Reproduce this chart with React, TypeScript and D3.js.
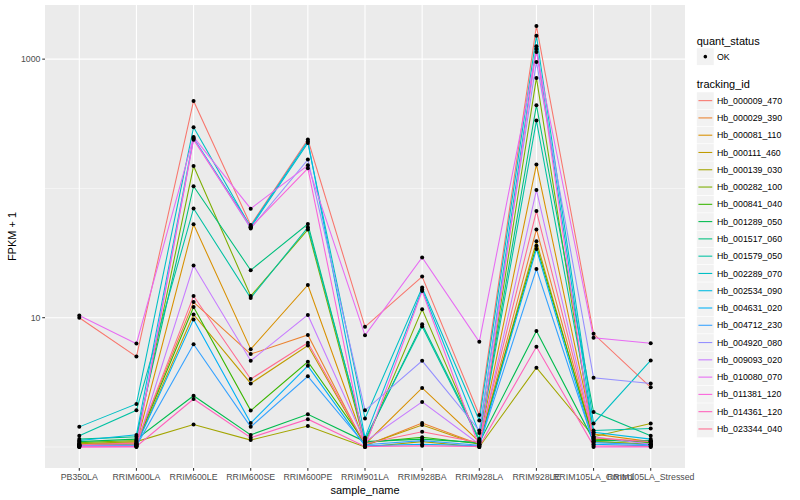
import React from 'react';
import * as d3 from 'd3';

const samples = [
  'PB350LA', 'RRIM600LA', 'RRIM600LE', 'RRIM600SE', 'RRIM600PE', 'RRIM901LA',
  'RRIM928BA', 'RRIM928LA', 'RRIM928LE', 'RRIM105LA_Control', 'RRIM105LA_Stressed',
];

const trackingIds = [
  'Hb_000009_470', 'Hb_000029_390', 'Hb_000081_110', 'Hb_000111_460', 'Hb_000139_030',
  'Hb_000282_100', 'Hb_000841_040', 'Hb_001289_050', 'Hb_001517_060', 'Hb_001579_050',
  'Hb_002289_070', 'Hb_002534_090', 'Hb_004631_020', 'Hb_004712_230', 'Hb_004920_080',
  'Hb_009093_020', 'Hb_010080_070', 'Hb_011381_120', 'Hb_014361_120', 'Hb_023344_040',
];

const palette = [
  '#F8766D', '#EA8331', '#D89000', '#C09B00', '#A3A500', '#7CAE00', '#39B600', '#00BB4E',
  '#00BF7D', '#00C1A3', '#00BFC4', '#00BAE0', '#00B0F6', '#35A2FF', '#9590FF', '#C77CFF',
  '#E76BF3', '#FA62DB', '#FF62BC', '#FF6C91',
];

// FPKM + 1 per sample (order of `samples`)
const hb_000009_470 = [10.0, 5.0, 475, 52, 239, 8.5, 20.8, 1.77, 1803, 7.5, 2.89];
const hb_000029_390 = [1.05, 1.08, 13.2, 5.23, 7.36, 1.02, 1.53, 1.05, 48.2, 1.15, 1.1];
const hb_000081_110 = [1.03, 1.05, 52.7, 5.71, 17.9, 1.05, 2.86, 1.1, 153, 1.26, 1.1];
const hb_000111_460 = [1.02, 1.04, 10.6, 3.1, 6.1, 1.03, 1.48, 1.04, 39, 1.1, 1.05];
const hb_000139_030 = [1.06, 1.1, 1.49, 1.13, 1.45, 1.0, 1.1, 1.0, 4.1, 1.2, 1.52];
const hb_000282_100 = [1.08, 1.12, 149, 14.7, 48, 1.05, 11.6, 1.1, 716, 1.1, 1.05];
const hb_000841_040 = [1.04, 1.06, 12.1, 1.91, 4.56, 1.08, 1.19, 1.06, 36, 1.15, 1.08];
const hb_001289_050 = [1.1, 1.15, 2.49, 1.24, 1.79, 1.1, 1.15, 1.08, 7.9, 1.12, 1.12];
const hb_001517_060 = [1.15, 1.2, 104, 23.3, 53, 1.12, 8.9, 1.15, 440, 1.86, 1.22];
const hb_001579_050 = [1.22, 1.92, 70, 14.2, 50, 1.15, 8.55, 1.12, 335, 1.34, 1.39];
const hb_002289_070 = [1.43, 2.15, 297, 50, 225, 1.66, 17.1, 1.6, 1517, 1.52, 4.67];
const hb_002534_090 = [1.12, 1.24, 245, 51, 232, 1.18, 16.5, 1.28, 1256, 1.3, 1.15];
const hb_004631_020 = [1.01, 1.03, 9.7, 1.53, 4.24, 1.02, 1.05, 1.02, 34, 1.05, 1.02];
const hb_004712_230 = [1.02, 1.02, 6.24, 1.43, 3.52, 1.04, 1.12, 1.03, 23.8, 1.08, 1.04];
const hb_004920_080 = [1.03, 1.04, 242, 49, 167, 1.92, 4.64, 1.34, 951, 3.43, 3.1];
const hb_009093_020 = [1.01, 1.01, 25.3, 4.64, 10.5, 1.1, 2.23, 1.05, 97, 1.2, 1.05];
const hb_010080_070 = [10.4, 6.3, 250, 69.7, 151, 7.3, 29.2, 6.5, 1136, 7.0, 6.35];
const hb_011381_120 = [1.0, 1.0, 238, 50, 143, 1.0, 16.1, 1.0, 1200, 1.0, 1.0];
const hb_014361_120 = [1.0, 1.01, 2.35, 1.18, 1.64, 1.01, 1.02, 1.01, 5.95, 1.02, 1.01];
const hb_023344_040 = [1.04, 1.07, 14.7, 3.35, 6.4, 1.06, 1.31, 1.08, 66.8, 1.18, 1.1];

const seriesValues = [
  hb_000009_470, hb_000029_390, hb_000081_110, hb_000111_460, hb_000139_030,
  hb_000282_100, hb_000841_040, hb_001289_050, hb_001517_060, hb_001579_050,
  hb_002289_070, hb_002534_090, hb_004631_020, hb_004712_230, hb_004920_080,
  hb_009093_020, hb_010080_070, hb_011381_120, hb_014361_120, hb_023344_040,
];

const majorTicks = [10, 1000];
const minorTicks = [1, 100];

const FONT = '"Liberation Sans", Arial, Helvetica, sans-serif';

export default function App() {
  const W = 800, H = 500;
  const left = 45, right = 685, top = 5, bottom = 468;

  const x = d3.scalePoint<string>().domain(samples).range([left, right]).padding(0.6);

  const all = seriesValues.flat();
  const lmin = Math.log10(d3.min(all) as number);
  const lmax = Math.log10(d3.max(all) as number);
  const pad = 0.05 * (lmax - lmin);
  const y = d3.scaleLog().domain([Math.pow(10, lmin - pad), Math.pow(10, lmax + pad)]).range([bottom, top]);

  const line = d3.line<number>()
    .x((_, i) => x(samples[i]) as number)
    .y((v) => y(v));

  const legX = 696.7;
  const keyW = 17.28;
  const firstKeyY = 92;

  return (
    <svg width={W} height={H} style={{ position: 'absolute', left: 0, top: 0, fontFamily: FONT }}>
      <rect x={0} y={0} width={W} height={H} fill="#FFFFFF" />
      <rect x={left} y={top} width={right - left} height={bottom - top} fill="#EBEBEB" />
      {minorTicks.map((t) => (
        <line key={'mn' + t} x1={left} x2={right} y1={y(t)} y2={y(t)} stroke="#FFFFFF" strokeWidth={0.53} />
      ))}
      {majorTicks.map((t) => (
        <line key={'mj' + t} x1={left} x2={right} y1={y(t)} y2={y(t)} stroke="#FFFFFF" strokeWidth={1.07} />
      ))}
      {samples.map((s) => (
        <line key={'xg' + s} x1={x(s)} x2={x(s)} y1={top} y2={bottom} stroke="#FFFFFF" strokeWidth={1.07} />
      ))}

      {seriesValues.map((vals, i) => (
        <path key={'l' + i} d={line(vals) || ''} fill="none" stroke={palette[i]} strokeWidth={1.07} />
      ))}
      {seriesValues.map((vals, i) =>
        vals.map((v, j) => (
          <circle key={'p' + i + '_' + j} cx={x(samples[j])} cy={y(v)} r={2} fill="#000000" />
        ))
      )}

      {/* y axis */}
      {majorTicks.map((t) => (
        <g key={'yt' + t}>
          <line x1={left - 2.75} x2={left} y1={y(t)} y2={y(t)} stroke="#333333" strokeWidth={1.07} />
          <text x={left - 4.5} y={y(t)} dy="0.35em" textAnchor="end" fontSize={8.8} fill="#4D4D4D">
            {d3.format('d')(t)}
          </text>
        </g>
      ))}
      {/* x axis */}
      {samples.map((s) => (
        <g key={'xt' + s}>
          <line x1={x(s)} x2={x(s)} y1={bottom} y2={bottom + 2.75} stroke="#333333" strokeWidth={1.07} />
          <text x={x(s)} y={bottom + 11.5} textAnchor="middle" fontSize={8.8} fill="#4D4D4D">
            {s}
          </text>
        </g>
      ))}

      <text x={(left + right) / 2} y={494} textAnchor="middle" fontSize={11} fill="#000000">sample_name</text>
      <text transform={`translate(16,${(top + bottom) / 2}) rotate(-90)`} textAnchor="middle" fontSize={11} fill="#000000">
        FPKM + 1
      </text>

      {/* legend: quant_status */}
      <text x={legX} y={44.5} fontSize={11} fill="#000000">quant_status</text>
      <rect x={legX} y={48} width={keyW} height={keyW} fill="#F2F2F2" stroke="#FFFFFF" strokeWidth={0.5} />
      <circle cx={legX + keyW / 2} cy={48 + keyW / 2} r={1.8} fill="#000000" />
      <text x={legX + keyW + 3} y={48 + keyW / 2} dy="0.35em" fontSize={8.8} fill="#000000">OK</text>

      {/* legend: tracking_id */}
      <text x={legX} y={88} fontSize={11} fill="#000000">tracking_id</text>
      {trackingIds.map((id, i) => {
        const ky = firstKeyY + i * keyW;
        return (
          <g key={'lg' + id}>
            <rect x={legX} y={ky} width={keyW} height={keyW} fill="#F2F2F2" stroke="#FFFFFF" strokeWidth={0.5} />
            <line x1={legX + keyW * 0.1} x2={legX + keyW * 0.9} y1={ky + keyW / 2} y2={ky + keyW / 2}
              stroke={palette[i]} strokeWidth={1.07} />
            <text x={legX + keyW + 3} y={ky + keyW / 2} dy="0.35em" fontSize={8.8} fill="#000000">{id}</text>
          </g>
        );
      })}
    </svg>
  );
}
